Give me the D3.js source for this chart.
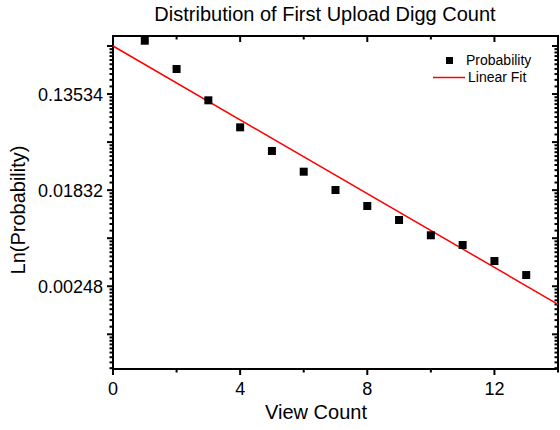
<!DOCTYPE html>
<html>
<head>
<meta charset="utf-8">
<script src="https://cdn.jsdelivr.net/npm/d3@7"></script>
<style>
  body { margin: 0; background: #fff; }
  text { font-family: "Liberation Sans", Arial, sans-serif; fill: #000; }
</style>
</head>
<body>
<div id="chartDiv"></div>
<script>
// data
var viewCounts = [1, 2, 3, 4, 5, 6, 7, 8, 9, 10, 11, 12, 13];
var probabilities = [0.4107, 0.2278, 0.1188, 0.0677, 0.0414, 0.0269, 0.01837,
                     0.01317, 0.00984, 0.00716, 0.00585, 0.00419, 0.00313];
// linear fit of ln(probability) against view count
var fitIntercept = -1.0;
var fitSlope = -0.384;
var fitRange = [0, 14];

var xTicks = [0, 4, 8, 12];
var xMinorTicks = [2, 6, 10, 14];
var yMajorExp = [-1, -2, -3, -4, -5, -6, -7, -8];
var yLabelExp = [-2, -4, -6];
var yTickLabels = ['0.13534', '0.01832', '0.00248'];

var svgWidth = 560;
var svgHeight = 430;
// plot box (note: "top" is a reserved window property, so use other names)
var plotLeft = 113, plotRight = 558, plotTop = 36, plotBottom = 369;

var svg = d3.select('#chartDiv')
            .append('svg')
            .attr('width', svgWidth)
            .attr('height', svgHeight);

var x = d3.scaleLinear().domain([0, 14]).range([plotLeft, plotRight]);
var y = d3.scaleLog().base(Math.E)
          .domain([Math.exp(-7.722), Math.exp(-0.792)])
          .range([plotBottom, plotTop]);

// minor ticks on the log axis: nine steps linear in value between majors
var yMinor = [];
yMajorExp.forEach(function(k) {
    var lo = Math.exp(k - 1), hi = Math.exp(k);
    for (var i = 1; i < 10; i++) {
        var v = lo + i * (hi - lo) / 10;
        if (v > y.domain()[0] && v < y.domain()[1]) yMinor.push(v);
    }
});
var yMajor = yMajorExp.map(function(k) { return Math.exp(k); })
                      .filter(function(v) { return v > y.domain()[0] && v < y.domain()[1]; });

var axes = svg.append('g').attr('stroke', '#000').attr('stroke-width', 2);

// bottom & top ticks (both drawn downward)
xTicks.forEach(function(t) {
    axes.append('line').attr('x1', x(t)).attr('x2', x(t)).attr('y1', plotBottom).attr('y2', plotBottom + 6);
    axes.append('line').attr('x1', x(t)).attr('x2', x(t)).attr('y1', plotTop).attr('y2', plotTop + 6);
});
xMinorTicks.forEach(function(t) {
    axes.append('line').attr('x1', x(t)).attr('x2', x(t)).attr('y1', plotBottom).attr('y2', plotBottom + 3.5);
    axes.append('line').attr('x1', x(t)).attr('x2', x(t)).attr('y1', plotTop).attr('y2', plotTop + 3.5);
});

// left & right ticks (both drawn leftward)
yMajor.forEach(function(v) {
    axes.append('line').attr('x1', plotLeft - 6).attr('x2', plotLeft).attr('y1', y(v)).attr('y2', y(v));
    axes.append('line').attr('x1', plotRight - 6).attr('x2', plotRight).attr('y1', y(v)).attr('y2', y(v));
});
yMinor.forEach(function(v) {
    axes.append('line').attr('x1', plotLeft - 3.5).attr('x2', plotLeft).attr('y1', y(v)).attr('y2', y(v));
    axes.append('line').attr('x1', plotRight - 3.5).attr('x2', plotRight).attr('y1', y(v)).attr('y2', y(v));
});

// frame
axes.append('rect')
    .attr('x', plotLeft).attr('y', plotTop)
    .attr('width', plotRight - plotLeft).attr('height', plotBottom - plotTop)
    .attr('fill', 'none');

// tick labels
svg.selectAll('.xlab')
   .data(xTicks)
   .enter()
   .append('text')
   .attr('class', 'xlab')
   .attr('x', function(d) { return x(d); })
   .attr('y', 395)
   .attr('text-anchor', 'middle')
   .attr('font-size', 18)
   .text(function(d) { return d; });

svg.selectAll('.ylab')
   .data(yLabelExp)
   .enter()
   .append('text')
   .attr('class', 'ylab')
   .attr('x', 103)
   .attr('y', function(d) { return y(Math.exp(d)) + 6.5; })
   .attr('text-anchor', 'end')
   .attr('font-size', 18)
   .text(function(d, i) { return yTickLabels[i]; });

// fit line
var fitLine = d3.line()
                .x(function(d) { return x(d); })
                .y(function(d) { return y(Math.exp(fitIntercept + fitSlope * d)); });
svg.append('path')
   .attr('d', fitLine(fitRange))
   .attr('fill', 'none')
   .attr('stroke', '#ff0000')
   .attr('stroke-width', 1.5);

// data points
var sz = 8;
svg.selectAll('.pt')
   .data(viewCounts)
   .enter()
   .append('rect')
   .attr('class', 'pt')
   .attr('x', function(d) { return x(d) - sz / 2; })
   .attr('y', function(d, i) { return y(probabilities[i]) - sz / 2; })
   .attr('width', sz)
   .attr('height', sz)
   .attr('fill', '#000');

// legend
svg.append('rect').attr('x', 446).attr('y', 57).attr('width', 7).attr('height', 7).attr('fill', '#000');
svg.append('text').attr('x', 466).attr('y', 65).attr('font-size', 14).text('Probability');
svg.append('line').attr('x1', 433).attr('x2', 465).attr('y1', 77.5).attr('y2', 77.5)
   .attr('stroke', '#ff0000').attr('stroke-width', 1.5);
svg.append('text').attr('x', 468).attr('y', 82).attr('font-size', 14).text('Linear Fit');

// titles
svg.append('text').attr('x', 325).attr('y', 21).attr('text-anchor', 'middle')
   .attr('font-size', 20).text('Distribution of First Upload Digg Count');
svg.append('text').attr('x', 316).attr('y', 419).attr('text-anchor', 'middle')
   .attr('font-size', 20).text('View Count');
svg.append('text').attr('transform', 'translate(25,210) rotate(-90)').attr('text-anchor', 'middle')
   .attr('font-size', 20).text('Ln(Probability)');
</script>
</body>
</html>
